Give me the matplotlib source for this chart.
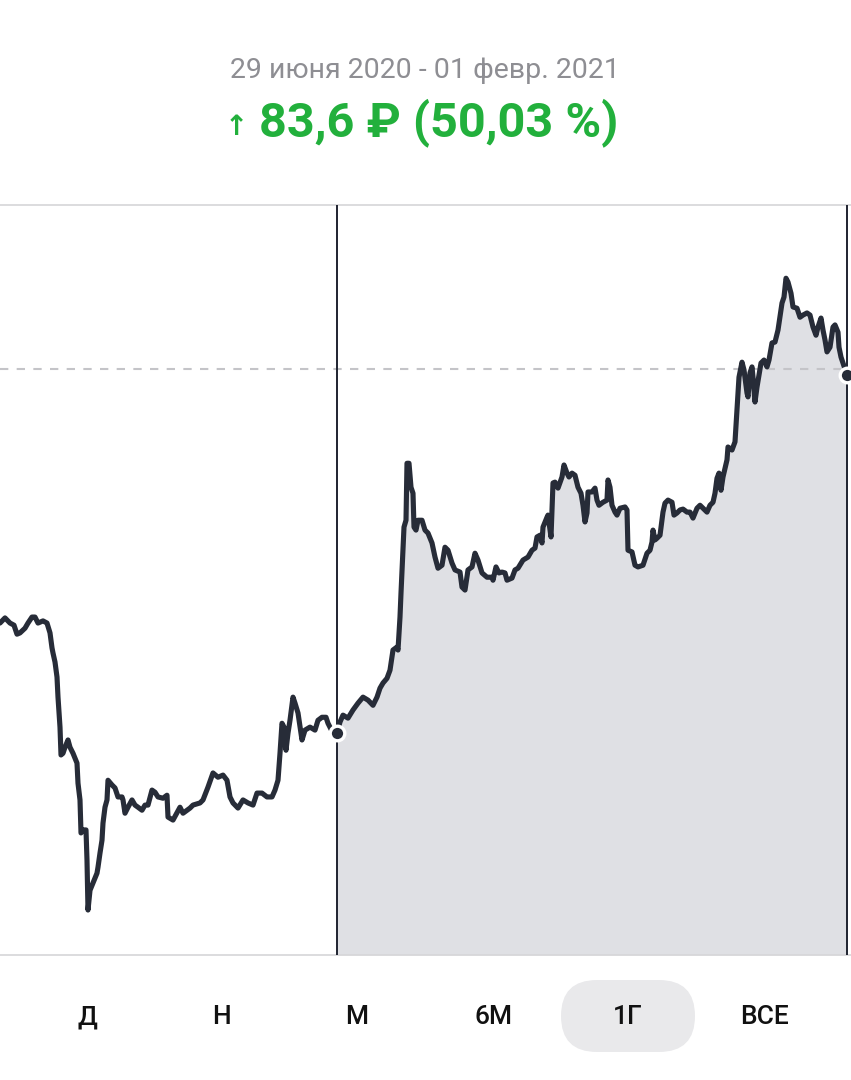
import matplotlib
matplotlib.use("Agg")
import matplotlib.pyplot as plt
from matplotlib.patches import FancyBboxPatch
import numpy as np

# price history, time in chart units (left part is before the selected window)
t = [0, 5, 10, 14, 17, 20, 25, 28, 32, 35, 38, 43, 47, 50, 52, 53, 55, 57, 58, 60,
     61, 63, 65, 68, 70, 73, 77, 78, 80, 81, 83, 86, 87, 88, 90, 93, 97, 98, 100, 102,
     103, 105, 107, 108, 112, 115, 118, 122, 123, 125, 128, 132, 135, 138, 142, 145, 148, 152, 155, 158,
     163, 167, 168, 173, 180, 183, 190, 193, 200, 203, 208, 213, 218, 223, 227, 230, 233, 238, 243, 248,
     253, 257, 262, 267, 272, 275, 278, 280, 282, 284, 286, 288, 290, 293, 295, 298, 302, 305, 310, 315,
     318, 322, 326, 328, 333, 337,
     340, 343, 348, 353, 358, 363, 368, 373, 377, 380, 383, 387, 390, 393, 397, 398, 400, 401, 403, 404,
     406, 407, 409, 411, 413, 414, 416, 418, 422, 425, 428, 432, 435, 438, 442, 445, 448, 452, 455, 460,
     462, 465, 468, 472, 475, 478, 482, 487, 492, 493, 496, 499, 502, 505, 507, 512, 515, 518, 523, 528,
     532, 535, 537, 540, 542, 543, 547, 548, 551, 553, 555, 558, 562, 564, 567, 569, 572, 575, 578, 581,
     583, 585, 587, 588, 592, 595, 597, 599, 603, 607, 608, 610, 612, 615, 617, 620, 625, 627, 628, 632,
     635, 638, 643, 647, 650, 652, 653, 655, 657, 660, 663, 665, 668, 672, 674, 677, 680, 683, 687, 690,
     693, 697, 700, 703, 707, 710, 713, 715, 717, 719, 721, 723, 727, 728, 732, 735, 737, 739, 742, 744,
     747, 748, 750, 752, 753, 755, 757, 761, 764, 767, 769, 772, 775, 778, 782, 784, 786, 788, 791, 793,
     797, 800, 803, 807, 810, 813, 816, 818, 821, 823, 825, 827, 830, 833, 835, 838, 839, 841, 843, 847]

price = [192.8, 194.0, 192.8, 192.3, 190.2, 190.5, 191.6, 192.8, 194.2, 194.2, 192.8, 193.3, 192.8, 190.5, 187.0, 185.8, 183.7, 180.2, 175.5, 168.5,
         162.0, 162.4, 163.8, 165.5, 163.8, 162.4, 160.1, 155.4, 151.5, 143.8, 144.5, 144.5, 137.4, 125.8, 130.4, 132.1, 134.4, 135.8, 139.1, 142.1,
         146.1, 149.8, 151.5, 156.1, 155.0, 154.3, 152.2, 152.2, 151.5, 148.4, 149.8, 151.5, 150.3, 149.8, 149.1, 150.3, 150.3, 153.8, 153.3, 152.2,
         151.9, 152.6, 147.5, 146.8, 149.8, 148.4, 149.6, 150.3, 150.8, 151.5, 154.5, 157.8, 156.8, 157.3, 156.1, 152.2, 150.8, 149.6, 151.5, 150.8,
         150.3, 153.1, 153.1, 152.2, 152.2, 153.8, 156.1, 162.4, 169.4, 168.5, 163.1, 167.1, 170.1, 175.5, 174.1, 171.8, 165.5, 167.8, 168.5, 167.8,
         170.1, 170.8, 170.8, 169.4, 167.1, 167.1,
         169.7, 171.3, 170.6, 172.5, 174.1, 175.5, 174.8, 173.6, 175.5, 177.6, 178.8, 179.9, 181.8, 186.5, 187.2, 186.5, 194.2, 199.8, 209.8, 215.2,
         216.8, 230.1, 230.1, 224.5, 223.1, 215.2, 214.5, 216.8, 216.8, 214.5, 213.8, 211.5, 208.2, 205.6, 206.3, 210.5, 209.8, 206.8, 205.2, 204.7,
         201.2, 200.5, 205.2, 205.9, 209.1, 207.5, 204.5, 203.5, 203.5, 202.8, 205.9, 204.5, 204.7, 204.5, 202.8, 203.3, 205.2, 205.6, 207.5, 208.2,
         209.8, 210.3, 212.9, 213.3, 211.5, 215.2, 217.5, 218.0, 212.9, 225.5, 225.7, 224.3, 226.9, 229.7, 227.8, 226.9, 227.8, 227.3, 224.5, 223.1,
         220.3, 216.4, 218.5, 223.4, 223.4, 224.3, 221.5, 220.3, 221.0, 221.5, 226.2, 224.5, 220.3, 218.7, 218.0, 219.6, 219.9, 219.2, 209.8, 209.4,
         206.3, 205.9, 206.3, 209.1, 209.8, 211.7, 214.5, 212.2, 212.6, 213.3, 218.7, 220.8, 221.5, 221.0, 218.0, 218.5, 219.2, 219.4, 218.7, 218.7,
         217.3, 219.6, 220.3, 219.6, 218.7, 220.3, 221.0, 223.1, 226.6, 227.8, 223.8, 226.9, 230.9, 233.9, 233.2, 235.1, 242.5, 250.2, 253.7, 251.9,
         246.5, 245.6, 251.2, 252.6, 250.2, 244.4, 247.9, 253.5, 254.2, 252.6, 254.2, 258.2, 258.4, 261.2, 267.5, 268.9, 273.3, 272.4, 269.8, 266.6,
         266.3, 264.2, 264.7, 265.2, 264.7, 261.9, 260.0, 261.9, 264.0, 261.2, 258.9, 256.1, 257.2, 261.9, 262.4, 260.7, 257.2, 254.9, 253.5, 250.7]

window_start = 337
window_end = 847
ref_price = 252.1

date_label = "29 июня 2020 - 01 февр. 2021"
change_label = "83,6 ₽ (50,03 %)"
periods = ["Д", "Н", "М", "6М", "1Г", "ВСЕ"]
selected = "1Г"

t = np.array(t)
price = np.array(price)

plt.rcParams['font.family'] = ['Roboto', 'DejaVu Sans']

line_col = "#272c38"
fig = plt.figure(figsize=(8.51, 10.8), dpi=100)
fig.patch.set_facecolor("white")

ax = fig.add_axes([0, 125 / 1080, 1, 750 / 1080])
ax.set_xlim(0, 851)
ax.set_ylim(115.3, 290.4)

mask = t >= window_start
ax.fill_between(t[mask], price[mask], 115.3, color="#dfe0e4", lw=0, zorder=1)
ax.axhline(ref_price, xmax=0.99, color="#c4c4c8", lw=1.5, dashes=(4, 4), zorder=2)
ax.axvline(window_start, color="#1f2330", lw=1.4, zorder=3)
ax.axvline(window_end, color="#1f2330", lw=1.4, zorder=3)
ax.plot(t, price, color=line_col, lw=3.7, solid_joinstyle="round", solid_capstyle="round", zorder=4)
ax.plot([t[mask][0], t[-1]], [price[mask][0], price[-1]], "o", ms=10.5, color=line_col,
        mec="white", mew=2.4, zorder=5, clip_on=False)

ax.set_xticks([])
ax.set_yticks([])
for s in ["left", "right"]:
    ax.spines[s].set_visible(False)
for s in ["top", "bottom"]:
    ax.spines[s].set_color("#d6d6d8")
    ax.spines[s].set_linewidth(1.2)

# overlay for header and period buttons
ov = fig.add_axes([0, 0, 1, 1], zorder=-1)
ov.set_xlim(0, 851)
ov.set_ylim(1080, 0)
ov.axis("off")

ov.text(425, 70, date_label, ha="center", va="center", fontsize=20.5, color="#8e8e93")
ov.text(236, 127, "↑", ha="center", va="center", fontsize=20, fontweight="bold",
        color="#22b03c", family="DejaVu Sans")
ov.text(439, 123, change_label, ha="center", va="center", fontsize=35, fontweight="bold",
        color="#22b03c")

xs = [87, 222, 357, 493, 628, 765]
for x, lab in zip(xs, periods):
    if lab == selected:
        ov.add_patch(FancyBboxPatch((x - 67, 980), 134, 72,
                                    boxstyle="round,pad=0,rounding_size=36",
                                    mutation_aspect=1, fc="#e9e9eb", ec="none"))
    ov.text(x, 1017, lab, ha="center", va="center", fontsize=19, fontweight="medium", color="#111111")

fig.savefig("out.png", dpi=100, facecolor="white")
